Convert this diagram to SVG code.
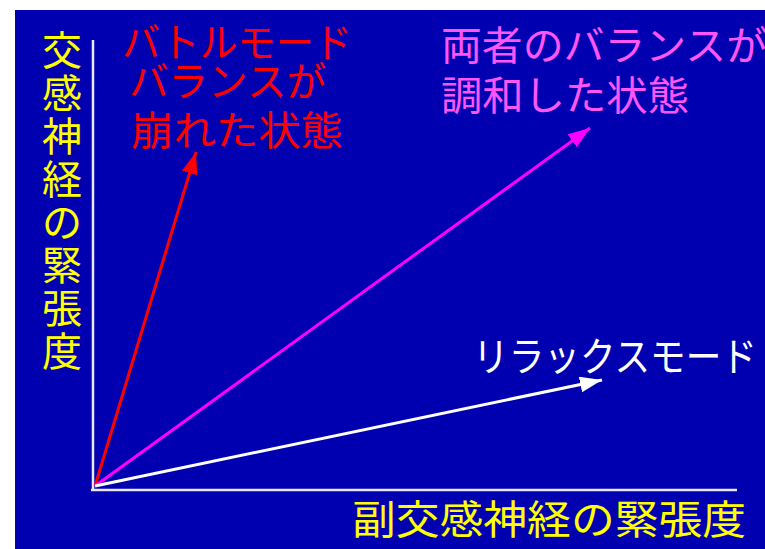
<svg xmlns="http://www.w3.org/2000/svg" width="765" height="549" viewBox="0 0 765 549">
<style>
text{font-family:"Noto Sans CJK JP","Noto Sans CJK SC",sans-serif;font-size:40px}
.y{fill:#ffff00}
.r{fill:#ff0000}
.m{fill:#ff55ff}
.w{fill:#ffffff}
.axis{stroke:#e8e8ff;stroke-width:2.5;fill:none}
</style>
<defs>
<marker id="ar" markerUnits="userSpaceOnUse" markerWidth="24" markerHeight="18" refX="22" refY="8" orient="auto"><path d="M0,0 L22,8 L0,16 Z" fill="#ff0000"/></marker>
<marker id="am" markerUnits="userSpaceOnUse" markerWidth="24" markerHeight="18" refX="22" refY="8" orient="auto"><path d="M0,0 L22,8 L0,16 Z" fill="#ff00ff"/></marker>
<marker id="aw" markerUnits="userSpaceOnUse" markerWidth="24" markerHeight="18" refX="22" refY="8" orient="auto"><path d="M0,0 L22,8 L0,16 Z" fill="#ffffff"/></marker>
</defs>
<rect x="0" y="0" width="765" height="549" fill="#ffffff"/>
<rect x="15" y="10" width="750" height="539" fill="#0000b0"/>
<g id="axes">
<line class="axis" x1="93" y1="40" x2="93" y2="490"/>
<line class="axis" x1="91" y1="490" x2="737" y2="490"/>
</g>
<g id="connectors">
<line x1="95" y1="486" x2="196" y2="152" stroke="#ff0000" stroke-width="3" marker-end="url(#ar)"/>
<line x1="95" y1="486" x2="590" y2="128" stroke="#ff00ff" stroke-width="3" marker-end="url(#am)"/>
<line x1="95" y1="486" x2="602" y2="380" stroke="#ffffff" stroke-width="3" marker-end="url(#aw)"/>
</g>
<g id="ylabel">
<text class="y" text-anchor="middle">
<tspan x="62" y="65">交</tspan><tspan x="62" y="108">感</tspan><tspan x="62" y="151">神</tspan><tspan x="62" y="194">経</tspan><tspan x="62" y="237">の</tspan><tspan x="62" y="280">緊</tspan><tspan x="62" y="323">張</tspan><tspan x="62" y="366">度</tspan>
</text>
</g>
<g id="xlabel">
<text class="y" x="352" y="534" textLength="394" lengthAdjust="spacingAndGlyphs">副交感神経の緊張度</text>
</g>
<g id="battle">
<text class="r" x="122" y="57" font-size="39" textLength="230" lengthAdjust="spacingAndGlyphs">バトルモード</text>
<text class="r" x="129" y="96" font-size="39" textLength="197" lengthAdjust="spacingAndGlyphs">バランスが</text>
<text class="r" x="131" y="145" textLength="212" lengthAdjust="spacingAndGlyphs">崩れた状態</text>
</g>
<g id="balance">
<text class="m" x="441" y="60" textLength="326" lengthAdjust="spacingAndGlyphs">両者のバランスが</text>
<text class="m" x="441" y="110" textLength="248" lengthAdjust="spacingAndGlyphs">調和した状態</text>
</g>
<g id="relax">
<text class="w" x="473" y="371" font-size="35" textLength="284" lengthAdjust="spacingAndGlyphs">リラックスモード</text>
</g>
</svg>
